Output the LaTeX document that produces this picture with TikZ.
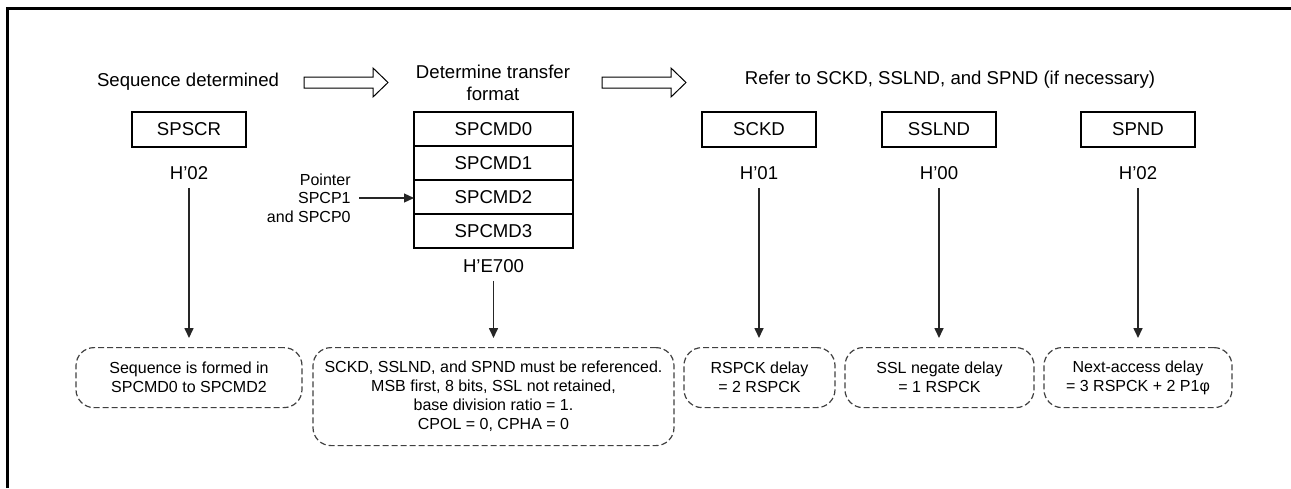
\documentclass[tikz,border=0pt]{standalone}
\usepackage{fontspec}
\setmainfont{Liberation Sans}
\usepackage{tikz}
\usetikzlibrary{positioning,arrows.meta}
\tikzset{
  regbox/.style={draw=black, line width=1pt, minimum width=57pt, minimum height=17.5pt, inner sep=0pt, outer sep=0pt, font=\fontsize{9.3}{11}\selectfont},
  cmdbox/.style={regbox, minimum width=79.5pt, minimum height=17pt},
  val/.style={inner sep=4pt, font=\fontsize{9.3}{11}\selectfont},
  note/.style={draw=black!75, line width=0.6pt, dash pattern=on 3pt off 1.5pt, rounded corners=9pt, align=center, inner sep=0pt, anchor=north, font=\fontsize{8}{9.5}\selectfont},
  arr/.style={-{Triangle[length=5pt,width=4.5pt]}, line width=0.8pt, draw=black!85},
  fatarr/.style={draw=black, line width=0.5pt, fill=white},
}
\begin{document}
\begin{tikzpicture}[x=0.5pt, y=-0.5pt]
  \useasboundingbox (0,0) rectangle (1291,488);
  \draw[line width=1.5pt] (7,488) -- (7,8) -- (1291,8);
  % headings and the two fat arrows
  \node[val, inner sep=0pt] (seq) at (188,82) {Sequence determined};
  \node[val, inner sep=0pt, align=center] (fmt) at (493,83) {Determine transfer\\format};
  \node[val, inner sep=0pt] (refer) at (950,80) {Refer to SCKD, SSLND, and SPND (if necessary)};
  \foreach \x in {304,602} \draw[fatarr] (\x,77) -- ++(69,0) -- ++(0,-9) -- ++(15,14.5) -- ++(-15,14.5) -- ++(0,-9) -- ++(-69,0) -- cycle;
  % registers
  \node[regbox] (spscr) at (189,129.5) {SPSCR};
  \node[regbox] (sckd) at (759,129.5) {SCKD};
  \node[regbox] (sslnd) at (939,129.5) {SSLND};
  \node[regbox] (spnd) at (1138,129.5) {SPND};
  \node[cmdbox, anchor=north] (cmd0) at (493.5,112) {SPCMD0};
  \foreach \i [count=\j from 0] in {1,2,3} \node[cmdbox, below=0pt of cmd\j] (cmd\i) {SPCMD\i};
  \node[val, below=5.5pt of spscr] (h1) {H’02};
  \node[val, below=1.5pt of cmd3] (h2) {H’E700};
  \node[val, below=5.5pt of sckd] (h3) {H’01};
  \node[val, below=5.5pt of sslnd] (h4) {H’00};
  \node[val, below=5.5pt of spnd] (h5) {H’02};
  \node[align=right, inner sep=4pt, anchor=east, font=\fontsize{8}{9.25}\selectfont] (ptr) at (359,198) {Pointer\\SPCP1\\and SPCP0};
  \draw[arr, line width=0.6pt] (ptr.east) -- (ptr.east -| cmd2.west);
  % notes
  \node[note, minimum width=113pt, minimum height=30pt] (n1) at (189,347) {Sequence is formed in\\SPCMD0 to SPCMD2};
  \node[note, minimum width=180.5pt, minimum height=49pt] (n2) at (493.5,347) {SCKD, SSLND, and SPND must be referenced.\\MSB first, 8 bits, SSL not retained,\\base division ratio = 1.\\CPOL = 0, CPHA = 0};
  \node[note, minimum width=75.5pt, minimum height=30pt] (n3) at (759.5,347) {RSPCK delay\\= 2 RSPCK};
  \node[note, minimum width=94.5pt, minimum height=30pt] (n4) at (939.5,347) {SSL negate delay\\= 1 RSPCK};
  \node[note, minimum width=94pt, minimum height=30pt] (n5) at (1138,347) {Next-access delay\\= 3 RSPCK + 2 P1φ};
  \foreach \a/\b in {h1/n1,h2/n2,h3/n3,h4/n4,h5/n5} \draw[arr, shorten >=4.5pt] (\a.south) -- (\a.south |- \b.north);
\end{tikzpicture}
\end{document}
